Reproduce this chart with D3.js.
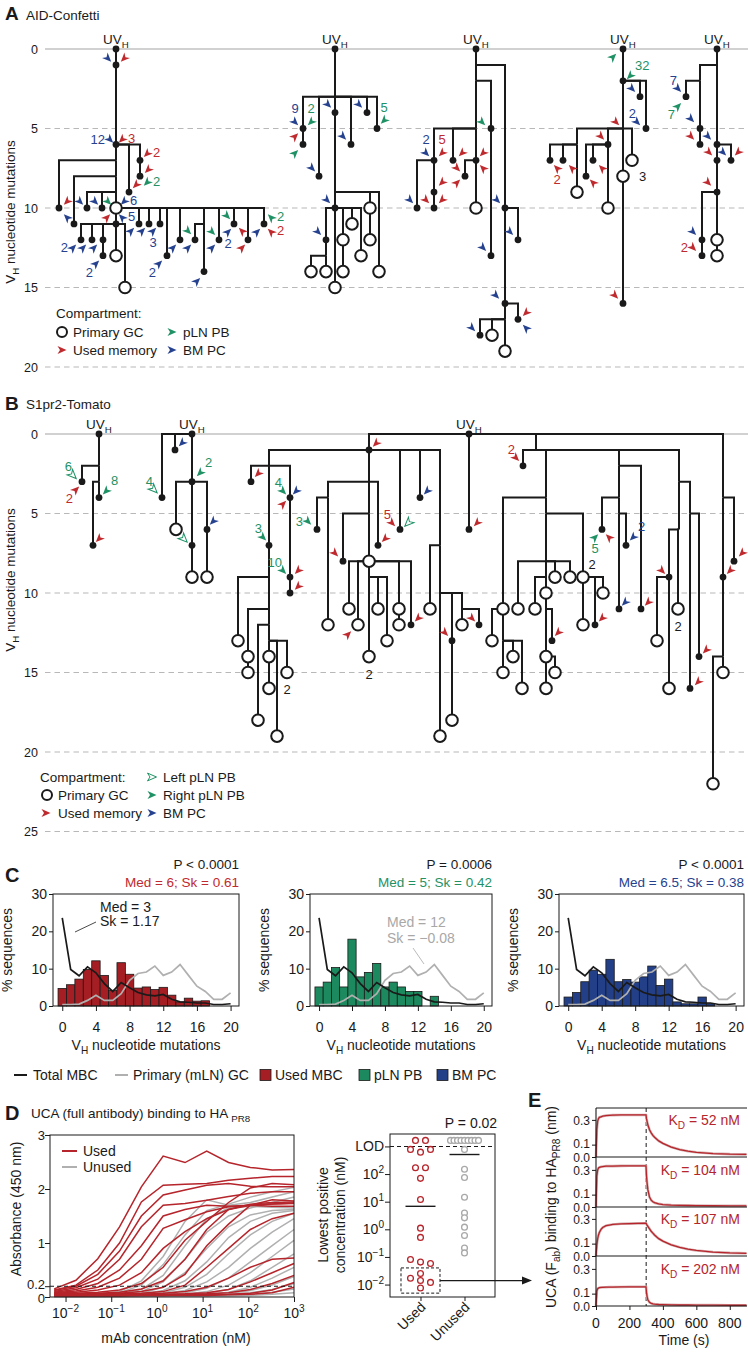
<!DOCTYPE html>
<html><head><meta charset="utf-8">
<script src="https://cdn.jsdelivr.net/npm/d3@7/dist/d3.min.js"></script>
<style>html,body{margin:0;padding:0;background:#fff}svg{display:block}</style>
</head><body>
<svg id="fig" width="748" height="1354" xmlns="http://www.w3.org/2000/svg"></svg>
<script>
// ================= DATA =================
// Lineage trees: [id, parent, column, VH nucleotide mutations, kind]  kind: r=UCA root, d=sequence, o=primary GC, n=inferred node
const treeA = [
 ['A1',null,116,0,'r'],['a1','A1',116,1,'d'],['a2','a1',116,6,'d'],['a3','a2',140,7,'d'],['a4','a3',140,8,'d'],['a5','a2',129,9,'d'],
 ['n1','a2',116,7,'n'],['a6','n1',59,10,'d'],['n2','n1',116,8,'n'],['a7','n2',74,11,'d'],['n3','n2',116,9,'n'],['a8','n3',87,10,'d'],['a9','n3',102,10,'d'],['o1','n3',116,10,'o'],
 ['a10','o1',139,11,'d'],['a11','o1',149,11,'d'],['a12','o1',160,11,'d'],['a13','o1',167,13,'d'],['a14','o1',180,12,'d'],['n4','o1',204,11,'n'],['a15','n4',195,12,'d'],['a16','n4',204,14,'d'],
 ['a17','o1',219,12,'d'],['a18','o1',234,11,'d'],['a19','o1',248,12,'d'],['a20','o1',264,11,'d'],
 ['a21','o1',116,11,'d'],['a22','a21',81,12,'d'],['a23','a21',92,12,'d'],['a24','a21',103,12,'d'],['a25','a24',103,13,'d'],['o2','a21',116,13,'o'],['o3','a21',125,15,'o'],
 ['A2',null,335,0,'r'],['n5','A2',335,3,'n'],['b1','n5',303,5,'d'],['b2','b1',303,6,'d'],['b3','n5',319,8,'d'],['b4','n5',335,4,'d'],['b5','n5',351,6,'d'],['b6','n5',367,4,'d'],['b7','n5',377,5,'d'],
 ['n6','b4',335,9,'n'],['o4','n6',370,10,'o'],['o5','o4',370,12,'o'],['o6','n6',379,14,'o'],['b8','n6',335,10,'d'],['b9','b8',326,12,'d'],['n7','b9',326,13,'n'],['o7','n7',326,14,'o'],['o8','n7',311,14,'o'],
 ['o9','b8',343,12,'o'],['o10','o9',343,14,'o'],['o11','b8',352,11,'o'],['o12','b8',361,13,'o'],['o13','b8',335,15,'o'],
 ['A3',null,476,0,'r'],['n8','A3',476,1,'n'],['c10','n8',505,10,'d'],['c11','c10',518,12,'d'],['c12','c10',505,16,'d'],['c13','c12',518,17,'d'],['n10','c12',505,17,'n'],['c14','n10',480,18,'d'],['o14','n10',492,18,'o'],['o15','n10',505,19,'o'],
 ['n11','n8',476,2,'n'],['c20','n11',491,5,'d'],['c21','c20',491,13,'d'],['n12','n11',476,5,'n'],['c23','n12',434,7,'d'],['c24','n12',453,7,'d'],['c25','n12',476,7,'d'],
 ['c26','c23',417,10,'d'],['c27','c23',434,9,'d'],['c28','c27',434,10,'d'],['c29','c25',465,8,'d'],['o16','c25',476,10,'o'],
 ['A4',null,623,0,'r'],['d1','A4',623,2,'d'],['d2','d1',640,3,'d'],['d3','d1',646,5,'d'],['n14','d1',623,5,'n'],['n15','n14',577,6,'n'],['d4','n15',550,7,'d'],['d5','n15',563,7,'d'],['o17','n15',577,9,'o'],
 ['d6','n14',608,6,'d'],['d7','d6',586,8,'d'],['d8','d6',593,7,'d'],['o18','d6',608,10,'o'],['o19','n14',632,7,'o'],['o20','n14',623,8,'o'],['d9','o20',623,16,'d'],
 ['A5',null,717,0,'r'],['n16','A5',717,1,'n'],['n17','n16',700,2,'n'],['e1','n17',686,3,'d'],['e2','n17',700,5,'d'],['e3','e2',700,6,'d'],['e4','n16',717,6,'d'],['e5','e4',731,7,'d'],['e6','e4',717,7,'d'],
 ['e7','e6',717,9,'d'],['e8','e7',702,12,'d'],['e9','e8',702,13,'d'],['o21','e7',717,12,'o'],['o22','o21',717,13,'o']
];
// Compartment arrowheads: [column, mutations, compartment (r used memory, g pLN PB, b BM PC, o left pLN PB), pointing, count label, label side]
const arrowsA = [
 [108,0.6,'b','dr'],[124,0.6,'r','dl'],[110,5.7,'b','dr','12','l'],[122,5.7,'r','dl','3','r'],
 [147,6.6,'r','dl','2','r'],[148,7.6,'r','dl'],[147,8.4,'g','dl','2','r'],[136,8.55,'r','dl'],
 [67,9.6,'r','dl'],[67,10.6,'b','ul'],[80,9.6,'b','dr'],[95,9.6,'b','dr'],[108,9.6,'g','dr'],[124,9.6,'b','dl','6','r'],
 [107,10.6,'r','ur'],[122,10.6,'b','ul','5','r'],[131,11.45,'b','ur'],[142,11.45,'b','ur'],[153,11.45,'b','ur','3','b'],
 [73,12.5,'b','ur','2','l'],[83,12.5,'b','ur'],[94,12.5,'b','ur'],[96,13.5,'b','ur','2','bl'],[159,13.5,'b','ur','2','bl'],
 [173,12.5,'b','ur'],[188,12.5,'b','ur'],[212,12.5,'b','ur'],[188,11.45,'g','dr'],[212,11.5,'g','dr'],[197,14.6,'b','ur'],
 [227,10.5,'g','dr'],[242,11.45,'r','ul'],[228,11.5,'b','ur','2','b'],[242,12.5,'r','ur'],[257,11.5,'b','ur'],
 [271,10.6,'g','ul','2','r'],[271,11.5,'r','ul','2','r'],
 [295,4.6,'b','dr','9','t'],[311,4.6,'g','dl','2','t'],[295,5.5,'r','ur'],[295,6.55,'g','ur'],[328,3.5,'b','dr'],[359,3.5,'b','dr'],
 [343,5.5,'b','dr'],[312,7.5,'b','dr'],[384,4.5,'g','dl','5','t'],[327,9.5,'b','dr'],[318,11.5,'b','dr'],
 [426,6.55,'b','dr','2','t'],[442,6.55,'r','dl','5','t'],[462,6.55,'r','dl'],[483,6.55,'r','dl'],[457,7.5,'r','dr'],[483,7.5,'r','ul'],
 [442,8.4,'r','dl'],[457,8.4,'r','ur'],[426,9.5,'r','dr'],[442,9.5,'r','dl'],[410,9.5,'b','dr'],[482,4.6,'g','dr'],[497,9.5,'b','dr'],
 [510,11.5,'b','dr'],[483,12.5,'b','dr'],[496,15.5,'b','dr'],[526,16.6,'r','dl'],[526,17.55,'b','ul'],[472,17.55,'b','dr'],
 [613,0.5,'g','ur'],[630,1.7,'g','dl','32','tr'],[632,2.5,'b','dr'],[637,4.6,'b','dr','2','tl'],[616,4.6,'r','dr'],[601,5.5,'r','dr'],
 [602,7.5,'r','ul'],[593,8.4,'r','ul'],[557,7.5,'r','ul','2','b'],[572,7.5,'r','ul'],[615,15.5,'r','dr'],
 [678,2.5,'b','dr','7','tl'],[678,3.6,'g','ur','7','bl'],[691,4.4,'b','dr'],[691,5.5,'r','dr'],[708,5.5,'b','dr'],[709,6.5,'r','dr'],
 [723,6.5,'b','dr'],[738,6.5,'r','dl'],[708,8.4,'r','dr'],[693,11.5,'b','dr'],[693,12.5,'r','dr','2','l']
];
const notesA = [[631,8,'3']];

const treeB = [
 ['B1',null,99,0,'r'],['p1','B1',99,2,'n'],['f1','p1',82,3,'d'],['p2','p1',99,3,'n'],['f2','p2',93,7,'d'],['f3','p2',99,4,'d'],
 ['B2',null,192,0,'r'],['g1','B2',162,4,'d'],['g2','B2',175,1,'d'],['g3','B2',192,3,'d'],['g6','g3',176,6,'o'],['g4','g3',192,7,'d'],['g7','g4',192,9,'o'],['g5','g3',207,6,'d'],['g8','g5',207,9,'o'],
 ['B3',null,469,0,'r'],['k1','B3',369,1,'d'],['k2','B3',469,6,'d'],['k3','B3',536,1,'n'],['k4','B3',723,4,'n'],
 ['n20','k1',269,2,'n'],['k5','n20',251,3,'d'],['k6','n20',290,4,'d'],['k7','n20',269,7,'d'],['k8','k6',290,9,'d'],['k9','k8',290,10,'d'],
 ['n21','k7',269,9,'n'],['k10','n21',238,13,'o'],['n22','n21',269,11,'n'],['k11','n22',248,14,'o'],['k12','k11',248,15,'o'],['n23','n22',269,12,'n'],['k13','n23',258,18,'o'],
 ['n24','n23',269,13,'n'],['k14','n24',277,19,'o'],['k15','n24',287,15,'o'],['k16','n24',269,14,'o'],['k17','k16',269,16,'o'],
 ['k18','k1',400,6,'d'],['k19','k1',420,4,'d'],['n25','k1',440,7,'n'],['k21','n25',430,11,'o'],['k22','n25',440,10,'n'],['k23','k22',440,19,'o'],['k24','k22',452,13,'d'],['k25','k24',452,18,'o'],
 ['n26','k22',462,11,'n'],['k26','n26',462,12,'o'],['k27','n26',479,12,'d'],
 ['n27','k1',369,3,'n'],['n28','n27',328,4,'n'],['k32','n28',317,6,'d'],['k33','n28',328,12,'o'],['k29','n27',378,7,'d'],['n29','n27',369,5,'n'],['k30','n29',343,8,'d'],['k31','n29',369,8,'o'],
 ['k34','k31',349,11,'o'],['k35','k31',358,12,'o'],['n30','k31',369,9,'n'],['k36','n30',378,11,'o'],['k37','n30',387,13,'o'],['k38','n30',369,14,'o'],['k39','k31',399,11,'o'],['k40','k39',399,12,'o'],['k41','k31',411,12,'d'],
 ['k42','k3',523,2,'d'],['n31','k3',546,4,'n'],['k44','n31',503,11,'o'],['k55','k44',492,13,'o'],['n35','k44',503,13,'n'],['k56','n35',513,14,'o'],['k57','n35',522,16,'o'],['k58','n35',503,15,'o'],
 ['n32','n31',546,5,'n'],['k45','n32',583,9,'o'],['k59','k45',583,12,'o'],['k60','k45',595,12,'d'],['k61','k45',603,10,'o'],
 ['n33','n32',546,8,'n'],['k46','n33',518,11,'o'],['k47','n33',570,9,'o'],['k48','n33',555,9,'o'],['n34','n33',546,9,'n'],['k49','n34',535,11,'o'],['k50','n34',546,10,'o'],
 ['n36','k50',546,11,'n'],['k51','n36',552,13,'d'],['k52','n36',546,14,'o'],['k53','k52',555,15,'o'],['k54','k52',546,16,'o'],
 ['n37','k3',619,2,'n'],['k62','n37',641,11,'d'],['n38','n37',619,4,'n'],['k63','n38',602,6,'d'],['n39','n38',619,5,'n'],['k64','n39',626,7,'d'],['k65','n39',619,11,'d'],
 ['n40','k3',679,3,'n'],['n41','n40',690,5,'n'],['k67','n41',699,14,'d'],['k68','n41',690,16,'d'],['n42','n40',679,6,'n'],['k69','n42',669,9,'d'],['k70','k69',657,13,'o'],['k71','k69',669,16,'o'],['k72','n42',678,11,'o'],
 ['k73','k4',734,8,'d'],['k74','k4',723,9,'d'],['n44','k74',723,14,'n'],['k75','n44',713,22,'o'],['k76','n44',723,15,'o']
];
const arrowsB = [
 [73,2.6,'o','dr','6','tl'],[76,3.5,'r','ur','2','bl'],[106,3.6,'g','dl','8','tr'],[99,6.6,'r','dl'],
 [182,0.57,'b','dl'],[200,2.45,'g','dl','2','tr'],[154,3.5,'o','dr','4','tl'],[184,6.6,'o','dr'],[213,5.5,'b','dl'],
 [376,0.6,'r','dl'],[477,5.6,'r','dl'],[258,2.5,'r','dl'],[283,3.6,'g','dr','4','tl'],[296,3.6,'b','dl'],[283,4.4,'r','ur'],
 [263,6.5,'g','dr','3','tl'],[283,8.6,'g','dr','10','tl'],[298,8.6,'r','dl'],[298,9.6,'r','dl'],
 [308,5.5,'g','dr','3','l'],[385,6.6,'r','dl'],[335,7.5,'r','dr'],[392,5.6,'r','dr','5','tl'],[408,5.6,'o','dl'],[427,3.6,'b','dl'],
 [348,12.6,'r','ur'],[418,11.6,'r','dl'],[445,12.5,'r','dr'],[472,11.6,'r','dr'],[516,1.5,'r','dr','2','tl'],
 [558,12.5,'r','dl'],[602,11.6,'r','dl'],[595,6.5,'g','ur','5','b'],[609,6.5,'r','ul'],[633,6.5,'b','dl','2','tr'],[625,10.6,'b','dl'],[648,10.6,'r','dl'],
 [662,8.6,'r','dr'],[706,13.6,'r','dl'],[698,15.6,'r','dl'],[742,7.5,'r','dl'],[730,8.6,'r','dl']
];
const notesB = [[287,16.1,'2'],[369,15.1,'2'],[592,8.2,'2'],[678,12.1,'2']];

// Panel C: % sequences by VH nucleotide mutations (0..20)
const mutations = d3.range(0, 21);
const totalMBC  = [23.6,9.8,8.1,10.5,8.9,6.0,3.9,6.3,4.9,3.6,3.0,2.7,3.1,1.8,1.1,1.0,0.8,0.8,0.4,0.4,0.6];
const primaryGC = [0.4,0.4,0.5,1.5,2.9,1.5,1.5,3.3,6.9,8.7,9.1,10.7,8.2,9.1,11.1,8.2,5.3,3.9,1.8,1.8,3.5];
const usedMBC   = [4.7,5.7,7.2,9.8,12.1,8.2,4.2,11.6,8.5,4.8,5.1,4.4,5.0,2.9,1.1,2.1,1.3,1.4,0,0,0];
const plnPB     = [5.1,6.4,10.3,5.1,17.9,7.8,9.0,11.4,5.1,6.4,5.1,3.9,3.9,0,2.6,0,0,0,0,0,0];
const bmPC      = [2.4,3.6,6.5,9.6,8.5,12.5,6.5,7.1,6.4,7.8,10.7,5.5,7.2,1.1,0.6,0.6,2.4,0.6,0,0,0];

// Panel D: ELISA absorbance vs mAb concentration (nM)
const conc = [0.00565,0.0169,0.0508,0.152,0.457,1.37,4.12,12.3,37,111,333,1000];
const usedCurves = [
 [0.15,0.31,0.71,1.30,2.04,2.61,2.49,2.70,2.49,2.40,2.35,2.36],
 [0.13,0.22,0.50,1.00,1.76,2.07,2.09,2.10,2.16,2.20,2.23,2.23],
 [0.12,0.20,0.42,0.85,1.50,1.89,1.98,2.07,2.10,2.05,2.04,2.04],
 [0.10,0.17,0.33,0.70,1.30,1.70,1.73,1.79,1.86,1.92,1.95,1.95],
 [0.09,0.14,0.25,0.50,0.95,1.50,1.62,1.70,1.68,1.70,1.72,1.74],
 [0.08,0.11,0.18,0.35,0.70,1.27,1.43,1.58,1.67,1.70,1.72,1.73],
 [0.07,0.09,0.13,0.22,0.45,0.90,1.21,1.45,1.62,1.72,1.75,1.76],
 [0.06,0.07,0.09,0.13,0.25,0.55,1.05,1.40,1.75,2.02,2.10,2.08],
 [0.05,0.06,0.07,0.09,0.15,0.30,0.70,1.25,1.62,1.70,1.68,1.68],
 [0.05,0.05,0.06,0.07,0.10,0.18,0.42,0.95,1.35,1.70,1.80,1.78],
 [0.04,0.04,0.05,0.06,0.07,0.10,0.22,0.55,0.90,1.25,1.45,1.55],
 [0.04,0.04,0.04,0.05,0.05,0.07,0.10,0.18,0.35,0.55,0.70,0.72],
 [0.03,0.03,0.04,0.04,0.05,0.05,0.06,0.08,0.14,0.28,0.45,0.62],
 [0.03,0.03,0.03,0.03,0.04,0.04,0.05,0.06,0.08,0.14,0.25,0.40],
 [0.02,0.02,0.03,0.03,0.03,0.03,0.04,0.04,0.05,0.07,0.13,0.27],
 [0.02,0.02,0.02,0.02,0.03,0.03,0.03,0.03,0.04,0.05,0.08,0.18]
];
const unusedCurves = [
 [0.02,0.03,0.05,0.10,0.30,0.75,1.40,1.80,1.70,1.75,1.85,1.95],
 [0.02,0.02,0.04,0.08,0.22,0.60,1.15,1.60,1.72,1.85,1.95,2.03],
 [0.02,0.02,0.03,0.06,0.14,0.40,0.95,1.45,1.65,1.68,1.66,1.65],
 [0.02,0.02,0.03,0.05,0.10,0.28,0.70,1.20,1.50,1.65,1.75,1.85],
 [0.02,0.02,0.02,0.04,0.07,0.18,0.45,0.90,1.30,1.52,1.60,1.62],
 [0.02,0.02,0.02,0.03,0.05,0.12,0.30,0.65,1.10,1.40,1.55,1.60],
 [0.02,0.02,0.02,0.03,0.04,0.08,0.18,0.42,0.80,1.15,1.40,1.55],
 [0.02,0.02,0.02,0.02,0.03,0.06,0.12,0.28,0.55,0.90,1.20,1.45],
 [0.02,0.02,0.02,0.02,0.03,0.04,0.08,0.16,0.35,0.65,0.95,1.25],
 [0.02,0.02,0.02,0.02,0.02,0.03,0.05,0.10,0.22,0.45,0.75,1.05],
 [0.02,0.02,0.02,0.02,0.02,0.03,0.04,0.07,0.14,0.30,0.55,0.80],
 [0.02,0.02,0.02,0.02,0.02,0.02,0.03,0.05,0.09,0.18,0.35,0.55],
 [0.01,0.01,0.02,0.02,0.02,0.02,0.03,0.04,0.06,0.12,0.22,0.38],
 [0.01,0.01,0.01,0.02,0.02,0.02,0.02,0.03,0.04,0.08,0.14,0.25],
 [0.01,0.01,0.01,0.01,0.02,0.02,0.02,0.02,0.03,0.05,0.09,0.15],
 [0.01,0.01,0.01,0.01,0.01,0.02,0.02,0.02,0.02,0.03,0.05,0.08]
];
const groups = ['Used', 'Unused'];
const usedLowest   = [1650,1650,780,620,780,170,170,70,12,1.1,0.51,0.081,0.065,0.058,0.025,0.017,0.014,0.012,0.0075];
const unusedLowest = [1650,1650,1650,1650,1650,1650,1650,1650,1650,780,150,75,14.5,3.9,2.6,1.2,0.6,0.21,0.14];
const medians = [6.8, 510];
const lodValue = 1000;

// Panel E: BLI sensorgrams (time s, response nm)
const kinTime = [0,5,10,15,20,30,40,60,80,100,150,200,250,299,302,305,310,320,330,340,350,375,400,450,500,550,600,700,800,900];
const kinKD = ['52','104','107','202'];
const kinCurves = [
 [0,0.22,0.29,0.31,0.32,0.325,0.33,0.335,0.337,0.338,0.34,0.34,0.34,0.34,0.31,0.29,0.26,0.22,0.195,0.175,0.16,0.13,0.11,0.08,0.06,0.047,0.038,0.028,0.023,0.021],
 [0,0.25,0.30,0.315,0.32,0.325,0.327,0.33,0.33,0.33,0.332,0.333,0.333,0.333,0.25,0.20,0.14,0.08,0.055,0.042,0.035,0.025,0.02,0.015,0.013,0.012,0.011,0.01,0.009,0.009],
 [0,0.09,0.14,0.17,0.19,0.215,0.23,0.245,0.25,0.255,0.26,0.262,0.264,0.265,0.258,0.25,0.24,0.22,0.2,0.185,0.17,0.14,0.12,0.09,0.07,0.055,0.045,0.032,0.025,0.022],
 [0,0.12,0.14,0.145,0.148,0.15,0.151,0.152,0.153,0.153,0.154,0.155,0.155,0.155,0.11,0.08,0.05,0.03,0.022,0.018,0.015,0.012,0.011,0.009,0.008,0.008,0.007,0.007,0.006,0.006]
];

// ================= DRAW =================
const F = '"Liberation Sans", Arial, Helvetica, sans-serif';
const INK = '#1a1a1a';
const COL = { r:'#bf2a2e', g:'#1f9165', b:'#26428f', o:'#1f9165' };
const BAR = { used:'#a51e23', pln:'#1c8a5e', bm:'#223f88' };
const RED = '#b5252b', GREY = '#b0b0b0';
const svg = d3.select('#fig');

function T(g, x, y, content, o = {}) {
  const size = o.size || 13;
  const t = g.append('text').attr('x', x).attr('y', y).attr('font-family', F).attr('font-size', size)
    .attr('fill', o.fill || INK).attr('text-anchor', o.anchor || 'start');
  if (o.weight) t.attr('font-weight', o.weight);
  if (o.rotate != null) t.attr('transform', `rotate(${o.rotate},${x},${y})`);
  const parts = Array.isArray(content) ? content : [[content]];
  let off = 0;
  parts.forEach(p => {
    const k = p[1] || 'n';
    const tgt = k === 'sub' ? size * 0.3 : k === 'sup' ? -size * 0.42 : 0;
    const s = t.append('tspan').text(p[0]);
    if (tgt - off !== 0) s.attr('dy', tgt - off);
    if (k !== 'n') s.attr('font-size', size * 0.72);
    off = tgt;
  });
  return t;
}

const xT = d3.scaleLinear().domain([0, 748]).range([0, 748]);
const ARROW = 'M4.5,0 L-4.5,-3.9 L-2,0 L-4.5,3.9 Z';
const ANG = { dr:45, dl:135, ur:-45, ul:-135, r:0 };
const LP = { l:[-5,4.5,'end'], r:[6,3.5,'start'], t:[0,-9,'middle'], b:[0,16,'middle'], tl:[-1,-4,'end'], tr:[5,-6,'start'], bl:[-3,13,'end'], br:[3,13,'start'] };

function drawGrid(g, yS, maxM) {
  const ticks = d3.range(0, maxM + 1, 5);
  g.append('g').selectAll('line').data(ticks).join('line')
    .attr('x1', 45).attr('x2', 748).attr('y1', d => yS(d)).attr('y2', d => yS(d))
    .attr('stroke', d => d === 0 ? '#a3a3a3' : '#b8b8b8').attr('stroke-width', 1.1)
    .attr('stroke-dasharray', d => d === 0 ? null : '5.5,4');
  ticks.forEach(d => T(g, 38, yS(d) + 4.5, String(d), { size: 12.5, anchor: 'end' }));
}
function drawTree(g, nodes, yS) {
  const byId = new Map(nodes.map(n => [n[0], n]));
  g.append('g').selectAll('path').data(nodes.filter(n => n[1])).join('path')
    .attr('d', n => { const p = byId.get(n[1]); return `M${xT(p[2])},${yS(p[3])}H${xT(n[2])}V${yS(n[3])}`; })
    .attr('fill', 'none').attr('stroke', INK).attr('stroke-width', 2).attr('stroke-linejoin', 'miter');
  g.append('g').selectAll('circle').data(nodes.filter(n => n[4] === 'o')).join('circle')
    .attr('cx', n => xT(n[2])).attr('cy', n => yS(n[3])).attr('r', 5.8)
    .attr('fill', '#fff').attr('stroke', INK).attr('stroke-width', 2);
  g.append('g').selectAll('circle').data(nodes.filter(n => n[4] === 'd' || n[4] === 'r')).join('circle')
    .attr('cx', n => xT(n[2])).attr('cy', n => yS(n[3])).attr('r', 3.4).attr('fill', INK);
  nodes.filter(n => n[4] === 'r').forEach(n => T(g, xT(n[2]), yS(n[3]) - 5, [['UV'], ['H', 'sub']], { size: 13.5, anchor: 'middle' }));
}
function arrowGlyph(sel, kind, dir) {
  sel.append('path').attr('d', ARROW).attr('transform', `rotate(${ANG[dir]})`)
    .attr('fill', kind === 'o' ? '#fff' : COL[kind]).attr('stroke', kind === 'o' ? COL.g : 'none').attr('stroke-width', 1);
}
function drawArrows(g, arr, yS) {
  const sel = g.append('g').selectAll('g').data(arr).join('g')
    .attr('transform', d => `translate(${xT(d[0])},${yS(d[1])})`);
  sel.each(function (d) {
    const s = d3.select(this);
    arrowGlyph(s, d[2], d[3]);
    if (d[4]) {
      const pos = d[5] || (d[3] === 'dl' || d[3] === 'ul' ? 'r' : 'l');
      const lp = LP[pos];
      T(s, lp[0], lp[1], d[4], { size: 13, anchor: lp[2], fill: COL[d[2]] });
    }
  });
}
function legendArrow(g, x, y, kind) { const s = g.append('g').attr('transform', `translate(${x},${y})`); arrowGlyph(s, kind, 'r'); }

// ---------- Panel A ----------
const yA = d3.scaleLinear().domain([0, 20]).range([49, 367]);
const gA = svg.append('g');
drawGrid(gA, yA, 20);
T(gA, 5, 20, 'A', { size: 19, weight: 'bold' });
T(gA, 26, 20, 'AID-Confetti', { size: 13.5 });
T(gA, 15, 212, [['V'], ['H', 'sub'], [' nucleotide mutations']], { size: 13.5, anchor: 'middle', rotate: -90 });
drawTree(gA, treeA, yA);
drawArrows(gA, arrowsA, yA);
notesA.forEach(n => T(gA, xT(n[0]) + 8, yA(n[1]) + 4.5, n[2], { size: 13 }));
T(gA, 56, 318, 'Compartment:', { size: 13.5 });
gA.append('circle').attr('cx', 62).attr('cy', 332).attr('r', 5).attr('fill', '#fff').attr('stroke', INK).attr('stroke-width', 2);
T(gA, 73, 337, 'Primary GC', { size: 13.5 });
legendArrow(gA, 62, 350, 'r'); T(gA, 73, 355, 'Used memory', { size: 13.5 });
legendArrow(gA, 172, 332, 'g'); T(gA, 183, 337, 'pLN PB', { size: 13.5 });
legendArrow(gA, 172, 350, 'b'); T(gA, 183, 355, 'BM PC', { size: 13.5 });

// ---------- Panel B ----------
const yB = d3.scaleLinear().domain([0, 25]).range([434, 831.5]);
const gB = svg.append('g');
drawGrid(gB, yB, 25);
T(gB, 5, 410, 'B', { size: 19, weight: 'bold' });
T(gB, 26, 409, 'S1pr2-Tomato', { size: 13.5 });
T(gB, 15, 580, [['V'], ['H', 'sub'], [' nucleotide mutations']], { size: 13.5, anchor: 'middle', rotate: -90 });
drawTree(gB, treeB, yB);
drawArrows(gB, arrowsB, yB);
notesB.forEach(n => T(gB, xT(n[0]), yB(n[1]) + 4.5, n[2], { size: 13, anchor: 'middle' }));
T(gB, 40, 782, 'Compartment:', { size: 13.5 });
gB.append('circle').attr('cx', 47).attr('cy', 795).attr('r', 5).attr('fill', '#fff').attr('stroke', INK).attr('stroke-width', 2);
T(gB, 58, 800, 'Primary GC', { size: 13.5 });
legendArrow(gB, 46, 813, 'r'); T(gB, 58, 818, 'Used memory', { size: 13.5 });
legendArrow(gB, 152, 777, 'o'); T(gB, 163, 782, 'Left pLN PB', { size: 13.5 });
legendArrow(gB, 152, 795, 'g'); T(gB, 163, 800, 'Right pLN PB', { size: 13.5 });
legendArrow(gB, 152, 813, 'b'); T(gB, 163, 818, 'BM PC', { size: 13.5 });

// ---------- Panel C ----------
const gC = svg.append('g');
T(gC, 5, 882, 'C', { size: 20, weight: 'bold' });
function hist(left, right, bars, color, pTxt, medTxt, medColor) {
  const g = gC.append('g');
  const x = d3.scaleLinear().domain([-1.1, 21]).range([left, right]);
  const y = d3.scaleLinear().domain([0, 30]).range([1006, 894]);
  g.append('g').selectAll('rect').data(mutations.filter(i => bars[i] > 0)).join('rect')
    .attr('x', i => x(i - 0.5)).attr('width', i => x(i + 0.5) - x(i - 0.5))
    .attr('y', i => y(bars[i])).attr('height', i => y(0) - y(bars[i]))
    .attr('fill', color).attr('stroke', INK).attr('stroke-width', 0.8);
  const line = d3.line().x((d, i) => x(mutations[i])).y(d => y(d));
  g.append('path').attr('d', line(primaryGC)).attr('fill', 'none').attr('stroke', GREY).attr('stroke-width', 1.7);
  g.append('path').attr('d', line(totalMBC)).attr('fill', 'none').attr('stroke', INK).attr('stroke-width', 1.7);
  g.append('rect').attr('x', left).attr('y', 894).attr('width', right - left).attr('height', 112)
    .attr('fill', 'none').attr('stroke', INK).attr('stroke-width', 1);
  const style = s => { s.select('.domain').remove(); s.selectAll('line').attr('stroke', INK);
    s.selectAll('text').attr('font-family', F).attr('font-size', 14).attr('fill', INK); };
  g.append('g').attr('transform', `translate(${left},0)`)
    .call(d3.axisLeft(y).tickValues([0, 10, 20, 30]).tickSize(4).tickPadding(2)).call(style);
  g.append('g').attr('transform', 'translate(0,1006)')
    .call(d3.axisBottom(x).tickValues([0, 4, 8, 12, 16, 20]).tickSize(5).tickPadding(11)).call(style);
  T(g, left - 41, 950, '% sequences', { size: 14, anchor: 'middle', rotate: -90 });
  T(g, (left + right) / 2, 1050, [['V'], ['H', 'sub'], [' nucleotide mutations']], { size: 14, anchor: 'middle' });
  T(g, right, 869, pTxt, { size: 13.5, anchor: 'end' });
  T(g, right, 887, medTxt, { size: 13.5, anchor: 'end', fill: medColor });
  return g;
}
const c1 = hist(53, 239, usedMBC, BAR.used, 'P < 0.0001', 'Med = 6; Sk = 0.61', COL.r);
T(c1, 100, 912, 'Med = 3', { size: 14 }); T(c1, 100, 926, 'Sk = 1.17', { size: 14 });
c1.append('line').attr('x1', 75).attr('y1', 932).attr('x2', 96).attr('y2', 922).attr('stroke', INK).attr('stroke-width', 0.8);
const c2 = hist(310, 492, plnPB, BAR.pln, 'P = 0.0006', 'Med = 5; Sk = 0.42', COL.g);
T(c2, 387, 927, 'Med = 12', { size: 14, fill: '#a8a8a8' }); T(c2, 387, 943, 'Sk = \u22120.08', { size: 14, fill: '#a8a8a8' });
c2.append('line').attr('x1', 413).attr('y1', 948).attr('x2', 424).attr('y2', 964).attr('stroke', '#a8a8a8').attr('stroke-width', 0.8);
hist(559, 744, bmPC, BAR.bm, 'P < 0.0001', 'Med = 6.5; Sk = 0.38', COL.b);
// legend
const lc = gC.append('g');
lc.append('line').attr('x1', 14).attr('x2', 27).attr('y1', 1075).attr('y2', 1075).attr('stroke', INK).attr('stroke-width', 2);
T(lc, 33, 1080, 'Total MBC', { size: 14 });
lc.append('line').attr('x1', 115).attr('x2', 128).attr('y1', 1075).attr('y2', 1075).attr('stroke', GREY).attr('stroke-width', 2);
T(lc, 133, 1080, 'Primary (mLN) GC', { size: 14 });
[[260, BAR.used, 'Used MBC'], [359, BAR.pln, 'pLN PB'], [437, BAR.bm, 'BM PC']].forEach(d => {
  lc.append('rect').attr('x', d[0]).attr('y', 1069.5).attr('width', 11).attr('height', 11).attr('fill', d[1]).attr('stroke', INK).attr('stroke-width', 0.8);
  T(lc, d[0] + 15, 1080, d[2], { size: 14 });
});

// ---------- Panel D ----------
const gD = svg.append('g');
T(gD, 5, 1120, 'D', { size: 20, weight: 'bold' });
T(gD, 31, 1118, [['UCA (full antibody) binding to HA '], ['PR8', 'sub']], { size: 13.5 });
const xD = d3.scaleLog().domain([Math.pow(10, -2.34), 1000]).range([50, 294]);
const yD = d3.scaleLinear().domain([0, 3]).range([1297, 1135]);
const lineD = d3.line().x((d, i) => xD(conc[i])).y(d => yD(d));
gD.append('g').selectAll('path').data(unusedCurves).join('path').attr('d', lineD)
  .attr('fill', 'none').attr('stroke', GREY).attr('stroke-width', 1.5);
gD.append('g').selectAll('path').data(usedCurves).join('path').attr('d', lineD)
  .attr('fill', 'none').attr('stroke', RED).attr('stroke-width', 1.5);
gD.append('line').attr('x1', 50).attr('x2', 294).attr('y1', yD(0.2)).attr('y2', yD(0.2))
  .attr('stroke', INK).attr('stroke-width', 1.1).attr('stroke-dasharray', '4,3');
gD.append('rect').attr('x', 50).attr('y', 1135).attr('width', 244).attr('height', 162).attr('fill', 'none').attr('stroke', INK).attr('stroke-width', 1);
const styleD = s => { s.select('.domain').remove(); s.selectAll('line').attr('stroke', INK); s.selectAll('text').remove(); };
const yTicksD = [0, 0.2, 1, 2, 3];
gD.append('g').attr('transform', 'translate(50,0)').call(d3.axisLeft(yD).tickValues(yTicksD).tickSize(5)).call(styleD);
yTicksD.forEach(v => T(gD, 45, yD(v) + (v === 0 ? 5.6 : v === 0.2 ? 3 : 5), String(v), { size: 13, anchor: 'end' }));
const decD = [-2, -1, 0, 1, 2, 3];
gD.append('g').attr('transform', 'translate(0,1297)').call(d3.axisBottom(xD).tickValues(decD.map(e => Math.pow(10, e))).tickSize(5)).call(styleD);
decD.forEach(e => T(gD, xD(Math.pow(10, e)), 1318, [['10'], [e < 0 ? '\u2212' + (-e) : String(e), 'sup']], { size: 14, anchor: 'middle' }));
T(gD, 176, 1343, 'mAb concentration (nM)', { size: 14, anchor: 'middle' });
T(gD, 21, 1209, 'Absorbance (450 nm)', { size: 14, anchor: 'middle', rotate: -90 });
gD.append('line').attr('x1', 62).attr('x2', 77).attr('y1', 1151).attr('y2', 1151).attr('stroke', RED).attr('stroke-width', 2);
T(gD, 83, 1156, 'Used', { size: 14 });
gD.append('line').attr('x1', 62).attr('x2', 77).attr('y1', 1167).attr('y2', 1167).attr('stroke', GREY).attr('stroke-width', 2);
T(gD, 83, 1172, 'Unused', { size: 14 });

// dot plot
const yDot = d3.scaleLog().domain([Math.pow(10, -2.45), Math.pow(10, 3.45)]).range([1297, 1134]);
const xDot = d3.scalePoint().domain(groups).range([390, 495]).padding(0.693);
gD.append('rect').attr('x', 390).attr('y', 1134).attr('width', 105).attr('height', 163).attr('fill', 'none').attr('stroke', INK).attr('stroke-width', 1);
gD.append('line').attr('x1', 390).attr('x2', 495).attr('y1', yDot(lodValue)).attr('y2', yDot(lodValue))
  .attr('stroke', INK).attr('stroke-width', 1.1).attr('stroke-dasharray', '4,3');
const ticksDot = [3, 2, 1, 0, -1, -2];
gD.append('g').attr('transform', 'translate(390,0)').call(d3.axisLeft(yDot).tickValues(ticksDot.map(e => Math.pow(10, e))).tickSize(5)).call(styleD);
ticksDot.forEach(e => T(gD, 384, yDot(Math.pow(10, e)) + 5, e === 3 ? [['LOD']] : [['10'], [e < 0 ? '\u2212' + (-e) : String(e), 'sup']], { size: 14, anchor: 'end' }));
gD.append('g').attr('transform', 'translate(0,1297)').call(d3.axisBottom(xDot).tickSize(4)).call(styleD);
groups.forEach(gn => T(gD, xDot(gn) + 6, 1308, gn, { size: 14, anchor: 'end', rotate: -45 }));
T(gD, 328, 1215, 'Lowest positive', { size: 14, anchor: 'middle', rotate: -90 });
T(gD, 345, 1215, 'concentration (nM)', { size: 14, anchor: 'middle', rotate: -90 });
T(gD, 471, 1128, 'P = 0.02', { size: 14, anchor: 'middle' });
function swarm(vals) {
  const pts = vals.map((v, i) => ({ v, i, y: yDot(v) }));
  const sorted = pts.slice().sort((a, b) => a.y - b.y);
  const out = []; let grp = [];
  const flush = () => { if (!grp.length) return; grp.sort((a, b) => a.i - b.i);
    const n = grp.length, sp = n > 1 ? Math.min(10, 28 / (n - 1)) : 0;
    grp.forEach((p, k) => { p.dx = (k - (n - 1) / 2) * sp; out.push(p); }); grp = []; };
  sorted.forEach(p => { if (grp.length && p.y - grp[0].y > 4.3) flush(); grp.push(p); });
  flush();
  return out;
}
[[usedLowest, 'Used', RED], [unusedLowest, 'Unused', '#a8a8a8']].forEach(([vals, gn, c]) => {
  gD.append('g').selectAll('circle').data(swarm(vals)).join('circle')
    .attr('cx', d => xDot(gn) + d.dx).attr('cy', d => d.y).attr('r', 2.9)
    .attr('fill', '#fff').attr('stroke', c).attr('stroke-width', 1.3);
});
gD.append('g').selectAll('line').data(medians).join('line')
  .attr('x1', (d, i) => xDot(groups[i]) - 15).attr('x2', (d, i) => xDot(groups[i]) + 15)
  .attr('y1', d => yDot(d)).attr('y2', d => yDot(d)).attr('stroke', INK).attr('stroke-width', 1.4);
gD.append('rect').attr('x', xDot('Used') - 19.5).attr('y', yDot(0.04)).attr('width', 39).attr('height', yDot(0.0049) - yDot(0.04))
  .attr('fill', 'none').attr('stroke', INK).attr('stroke-width', 1).attr('stroke-dasharray', '3,2');
gD.append('line').attr('x1', xDot('Used') + 19.5).attr('x2', 524).attr('y1', yDot(0.014)).attr('y2', yDot(0.014)).attr('stroke', INK).attr('stroke-width', 1.2);
gD.append('path').attr('d', `M532,${yDot(0.014)} L522,${yDot(0.014) - 4} L522,${yDot(0.014) + 4} Z`).attr('fill', INK);

// ---------- Panel E ----------
const gE = svg.append('g');
T(gE, 528, 1107, 'E', { size: 20, weight: 'bold' });
const xE = d3.scaleLinear().domain([0, 900]).range([596, 746.5]);
const baseE = [1157, 1207, 1256, 1306];
const yTicksE = [0, 0.1, 0.3];
const yTickNudge = { 0: 4.6, 0.1: 3.4, 0.3: 5.6 };
gE.append('line').attr('x1', 596).attr('x2', 747).attr('y1', 1108).attr('y2', 1108).attr('stroke', INK).attr('stroke-width', 1);
gE.append('line').attr('x1', xE(300)).attr('x2', xE(300)).attr('y1', 1108).attr('y2', 1306).attr('stroke', INK).attr('stroke-width', 1).attr('stroke-dasharray', '4,3');
kinCurves.forEach((vals, k) => {
  const y = d3.scaleLinear().domain([0, 0.4]).range([baseE[k], baseE[k] - 49.5]);
  const lineE = d3.line().x((d, i) => xE(kinTime[i])).y(d => y(d));
  gE.append('path').attr('d', lineE(vals)).attr('fill', 'none').attr('stroke', '#d6b0b0').attr('stroke-width', 2.6);
  gE.append('path').attr('d', lineE(vals)).attr('fill', 'none').attr('stroke', RED).attr('stroke-width', 1.3);
  gE.append('line').attr('x1', 596).attr('x2', 747).attr('y1', baseE[k]).attr('y2', baseE[k]).attr('stroke', INK).attr('stroke-width', 1.1);
  gE.append('g').attr('transform', 'translate(596,0)').call(d3.axisLeft(y).tickValues(yTicksE).tickSize(4)).call(styleD);
  yTicksE.forEach(v => T(gE, 590, y(v) + yTickNudge[v], v.toFixed(1), { size: 12, anchor: 'end' }));
  T(gE, 740, baseE[k] - 49.5 + 17, [['K'], ['D', 'sub'], [' = ' + kinKD[k] + ' nM']], { size: 14, anchor: 'end', fill: RED });
});
gE.append('line').attr('x1', 596).attr('x2', 596).attr('y1', 1108).attr('y2', 1306).attr('stroke', INK).attr('stroke-width', 1.1);
gE.append('g').attr('transform', 'translate(0,1306)').call(d3.axisBottom(xE).tickValues([0, 200, 400, 600, 800]).tickSize(4)).call(styleD);
[0, 200, 400, 600, 800].forEach(v => T(gE, xE(v), 1328, String(v), { size: 14, anchor: 'middle' }));
T(gE, 684, 1345, 'Time (s)', { size: 14, anchor: 'middle' });
T(gE, 556, 1207, [['UCA (F'], ['ab', 'sub'], [') binding to HA'], ['PR8', 'sub'], [' (nm)']], { size: 14, anchor: 'middle', rotate: -90 });
</script></body></html>
